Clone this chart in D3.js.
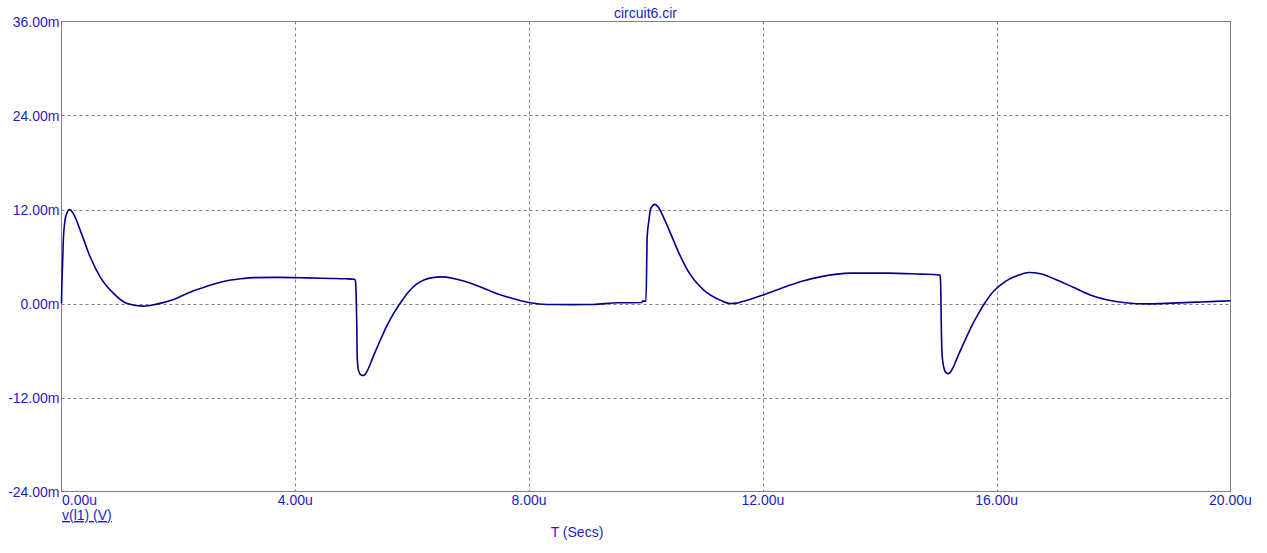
<!DOCTYPE html>
<html>
<head>
<meta charset="utf-8">
<script src="https://cdn.jsdelivr.net/npm/d3@7"></script>
<style>
  html, body { margin: 0; padding: 0; background: #ffffff; }
  svg { display: block; }
  text { font-family: "Liberation Sans", Arial, sans-serif; }
</style>
</head>
<body>
<svg id="chart" width="1267" height="553"></svg>
<script>
// ---- data (time in µs, voltage in mV) ----
const timeUs = [
  0, 0.005, 0.02, 0.03, 0.06, 0.09, 0.14, 0.2, 0.34, 0.49, 0.66, 0.89, 1.12, 1.4, 1.63,
  1.92, 2.2, 2.49, 2.77, 3.06, 3.29, 3.7, 4.2, 4.6, 4.86, 5.015, 5.03, 5.05, 5.06, 5.08,
  5.12, 5.16, 5.2, 5.25, 5.3, 5.36, 5.43, 5.5, 5.57, 5.68, 5.8, 5.95, 6.08, 6.2, 6.35,
  6.5, 6.7, 6.88, 7.17, 7.45, 7.74, 8.02, 8.31, 8.7, 9.1, 9.5, 9.93, 9.94, 10.0, 10.02,
  10.05, 10.08, 10.15, 10.2, 10.3, 10.42, 10.56, 10.7, 10.99, 11.27, 11.44, 11.55, 11.62, 12.01, 12.41,
  12.7, 12.98, 13.5, 14.13, 14.7, 15.01, 15.03, 15.04, 15.055, 15.065, 15.09, 15.13, 15.17, 15.21, 15.26,
  15.31, 15.37, 15.44, 15.51, 15.58, 15.69, 15.8, 15.95, 16.08, 16.2, 16.37, 16.55, 16.75, 17.0, 17.3,
  17.6, 17.9, 18.2, 18.6, 19.0, 19.5, 20.0
];
const voltageMv = [
  0, 1.9, 5.5, 7.9, 10.6, 11.5, 12.0, 11.5, 8.95, 5.96, 3.4, 1.29, 0.0, -0.33, -0.08,
  0.5, 1.45, 2.2, 2.8, 3.15, 3.3, 3.33, 3.27, 3.2, 3.15, 3.1, 2.8, -2.0, -7.0, -8.5,
  -9.1, -9.2, -9.0, -8.3, -7.4, -6.3, -5.1, -3.9, -2.8, -1.3, 0.1, 1.6, 2.5, 3.0, 3.3,
  3.4, 3.2, 2.86, 2.1, 1.24, 0.6, 0.09, -0.12, -0.14, -0.12, 0.09, 0.12, 0.3, 0.3, 8.5,
  10.6, 12.1, 12.65, 12.4, 11.0, 8.95, 6.5, 4.4, 1.71, 0.43, 0.0, 0.05, 0.18, 1.1, 2.2,
  2.9, 3.4, 3.88, 3.88, 3.75, 3.66, 3.6, 2.8, -4.0, -6.5, -8.0, -8.8, -8.95, -8.75, -8.1,
  -7.2, -6.15, -5.0, -3.85, -2.75, -1.25, 0.1, 1.6, 2.45, 3.05, 3.6, 3.95, 3.8, 3.1, 2.1,
  1.1, 0.45, 0.1, -0.05, 0.05, 0.2, 0.35
];
const xTicks = [0, 4, 8, 12, 16, 20];
const xTickLabels = ["0.00u", "4.00u", "8.00u", "12.00u", "16.00u", "20.00u"];
const yTicks = [-24, -12, 0, 12, 24, 36];
const yTickLabels = ["-24.00m", "-12.00m", "0.00m", "12.00m", "24.00m", "36.00m"];
const titleText = "circuit6.cir";
const seriesLabel = "v(l1) (V)";
const xAxisTitle = "T (Secs)";

// ---- layout ----
const svg = d3.select("#chart");
const plotL = 61.5, plotR = 1230.5, plotT = 21.5, plotB = 491.5;
const textColor = "#1c1cc8";
const lineColor = "#00008b";
const frameColor = "#808080";

const x = d3.scaleLinear().domain([0, 20]).range([plotL, plotR]);
const y = d3.scaleLinear().domain([-24, 36]).range([plotB, plotT]);

// grid
const grid = svg.append("g");
grid.selectAll("line.h").data(yTicks.slice(1, -1)).enter().append("line")
  .attr("x1", plotL).attr("x2", plotR)
  .attr("y1", d => Math.round(y(d)) + 0.5).attr("y2", d => Math.round(y(d)) + 0.5)
  .attr("stroke", frameColor).attr("stroke-width", 1).attr("stroke-dasharray", "3,3");
grid.selectAll("line.v").data(xTicks.slice(1, -1)).enter().append("line")
  .attr("y1", plotT).attr("y2", plotB)
  .attr("x1", d => Math.round(x(d)) + 0.5).attr("x2", d => Math.round(x(d)) + 0.5)
  .attr("stroke", frameColor).attr("stroke-width", 1).attr("stroke-dasharray", "3,3");

// frame
svg.append("rect")
  .attr("x", plotL).attr("y", plotT).attr("width", plotR - plotL).attr("height", plotB - plotT)
  .attr("fill", "none").attr("stroke", frameColor).attr("stroke-width", 1);

// y tick labels
svg.append("g").selectAll("text").data(yTicks).enter().append("text")
  .attr("x", 59.5).attr("y", d => y(d) + 5)
  .attr("text-anchor", "end")
  .attr("font-size", 14).attr("fill", textColor)
  .text((d, i) => yTickLabels[i]);

// x tick labels
svg.append("g").selectAll("text").data(xTicks).enter().append("text")
  .attr("x", (d, i) => i === 0 ? plotL + 0.5 : x(d))
  .attr("y", 505)
  .attr("text-anchor", (d, i) => i === 0 ? "start" : "middle")
  .attr("font-size", 14).attr("fill", textColor)
  .text((d, i) => xTickLabels[i]);

// title
svg.append("text").attr("x", 645.5).attr("y", 18)
  .attr("text-anchor", "middle").attr("font-size", 14).attr("fill", textColor)
  .text(titleText);

// series label (underlined)
svg.append("text").attr("x", plotL + 0.5).attr("y", 520)
  .attr("font-size", 14).attr("fill", textColor)
  .attr("text-decoration", "underline")
  .text(seriesLabel);

// x axis title
svg.append("text").attr("x", 577).attr("y", 537)
  .attr("text-anchor", "middle").attr("font-size", 14).attr("fill", textColor)
  .text(xAxisTitle);

// waveform
const pts = timeUs.map((t, i) => [t, voltageMv[i]]);
const line = d3.line().x(d => x(d[0])).y(d => y(d[1])).curve(d3.curveMonotoneX);
svg.append("path")
  .datum(pts)
  .attr("d", line)
  .attr("fill", "none")
  .attr("stroke", lineColor)
  .attr("stroke-width", 1.6)
  .attr("stroke-linejoin", "round");
</script>
</body>
</html>
